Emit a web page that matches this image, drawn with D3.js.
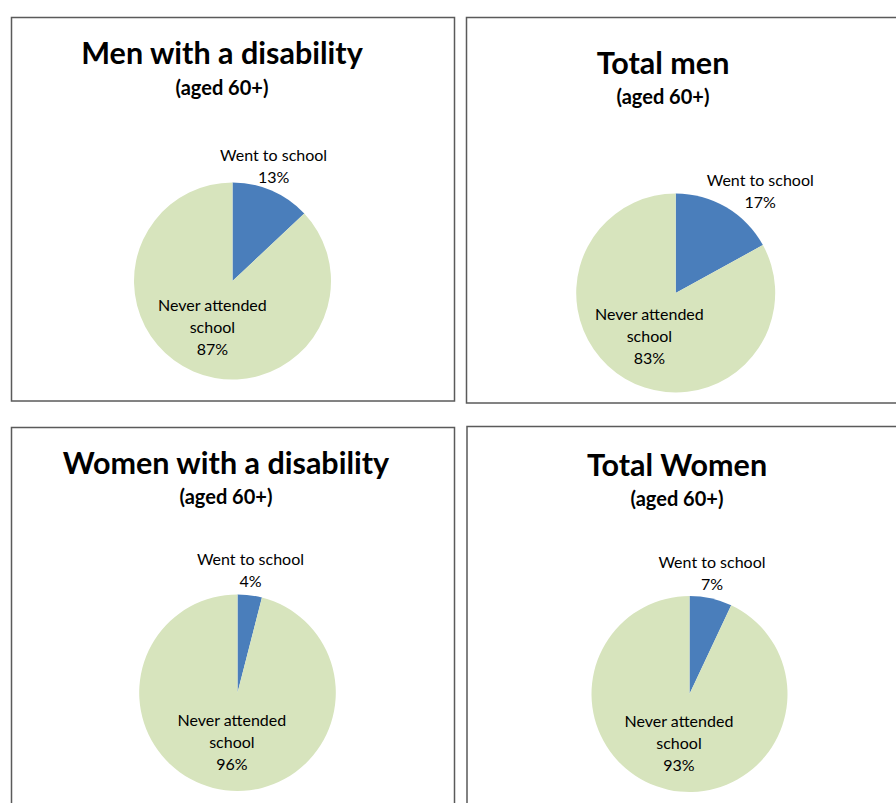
<!DOCTYPE html>
<html>
<head>
<meta charset="utf-8">
<script src="https://cdn.jsdelivr.net/npm/d3@7/dist/d3.min.js"></script>
<style>
  html, body { margin: 0; padding: 0; background: #fff; }
  svg { display: block; }
</style>
</head>
<body>
<svg id="chart" width="896" height="803"></svg>
<script>
// ---- data ----
const chartTitles = ["Men with a disability", "Total men", "Women with a disability", "Total Women"];
const subtitle = "(aged 60+)";
const categories = ["Went to school", "Never attended school"];
const wentToSchool = [13, 17, 4, 7];
const neverAttended = [87, 83, 96, 93];
const sliceColors = ["#4A7EBB", "#D7E4BD"];

// ---- layout (panels) ----
const panels = [
  { x: 11.5, y: 17.5, w: 443, h: 383.5, cx: 232.5, cy: 281, r: 98.5, titleX: 222, titleY: 64, subY: 95 },
  { x: 466.5, y: 17.5, w: 440, h: 385.5, cx: 675.7, cy: 293, r: 99.5, titleX: 663, titleY: 74, subY: 104 },
  { x: 11.5, y: 427.5, w: 443, h: 390, cx: 237.5, cy: 692.7, r: 98.3, titleX: 226, titleY: 474, subY: 504 },
  { x: 467, y: 426.5, w: 440, h: 390, cx: 689.5, cy: 694, r: 98, titleX: 677, titleY: 476, subY: 506 }
];

const svg = d3.select("#chart");
const pie = d3.pie().sort(null).value(d => d.value);
const fontTitle = "Lato, 'Open Sans', sans-serif";
const lineH = 22;

panels.forEach((p, i) => {
  const g = svg.append("g");
  g.append("rect")
    .attr("x", p.x).attr("y", p.y).attr("width", p.w).attr("height", p.h)
    .attr("fill", "#fff").attr("stroke", "#5a5a5a").attr("stroke-width", 1.5);

  g.append("text")
    .attr("x", p.titleX).attr("y", p.titleY)
    .attr("text-anchor", "middle")
    .attr("font-family", fontTitle).attr("font-weight", "bold")
    .attr("font-size", 30.5).attr("fill", "#000")
    .text(chartTitles[i]);
  g.append("text")
    .attr("x", p.titleX).attr("y", p.subY)
    .attr("text-anchor", "middle")
    .attr("font-family", fontTitle).attr("font-weight", "bold")
    .attr("font-size", 20).attr("fill", "#000")
    .text(subtitle);

  const data = [
    { cat: categories[0], value: wentToSchool[i] },
    { cat: categories[1], value: neverAttended[i] }
  ];
  const arcs = pie(data);
  const arc = d3.arc().innerRadius(0).outerRadius(p.r);
  const pg = g.append("g").attr("transform", `translate(${p.cx},${p.cy})`);
  pg.selectAll("path").data(arcs).enter().append("path")
    .attr("d", arc)
    .attr("fill", (d, j) => sliceColors[j]);

  // outside-end label for small slice
  const a0 = arcs[0];
  const mid = (a0.startAngle + a0.endAngle) / 2;
  const anchorR = p.r + 5;
  const ax = Math.sin(mid) * anchorR, ay = -Math.cos(mid) * anchorR;
  const deg = mid * 180 / Math.PI;
  const f = Math.max(0, Math.min(1, (deg - 25) / 10));
  const lx = ax + 56 * f;
  const lcy = ay - 14 * (1 - f) - 6;   // label box centre y
  const t1 = pg.append("text")
    .attr("text-anchor", "middle")
    .attr("font-family", fontTitle).attr("font-size", 16).attr("fill", "#000");
  t1.append("tspan").attr("x", lx).attr("y", lcy - 5).text(a0.data.cat);
  t1.append("tspan").attr("x", lx).attr("y", lcy - 5 + lineH).text(a0.data.value + "%");

  // inside label for large slice
  const a1 = arcs[1];
  const inner = d3.arc().innerRadius(p.r * 0.54).outerRadius(p.r * 0.54);
  const [ix, iy] = inner.centroid(a1);
  const words = a1.data.cat.split(" ");
  const lines = [words.slice(0, 2).join(" "), words.slice(2).join(" "), a1.data.value + "%"];
  const t2 = pg.append("text")
    .attr("text-anchor", "middle")
    .attr("font-family", fontTitle).attr("font-size", 16).attr("fill", "#000");
  lines.forEach((ln, k) => {
    t2.append("tspan").attr("x", ix + 1).attr("y", iy + 3 + (k - 1) * lineH).text(ln);
  });
});
</script>
</body>
</html>
